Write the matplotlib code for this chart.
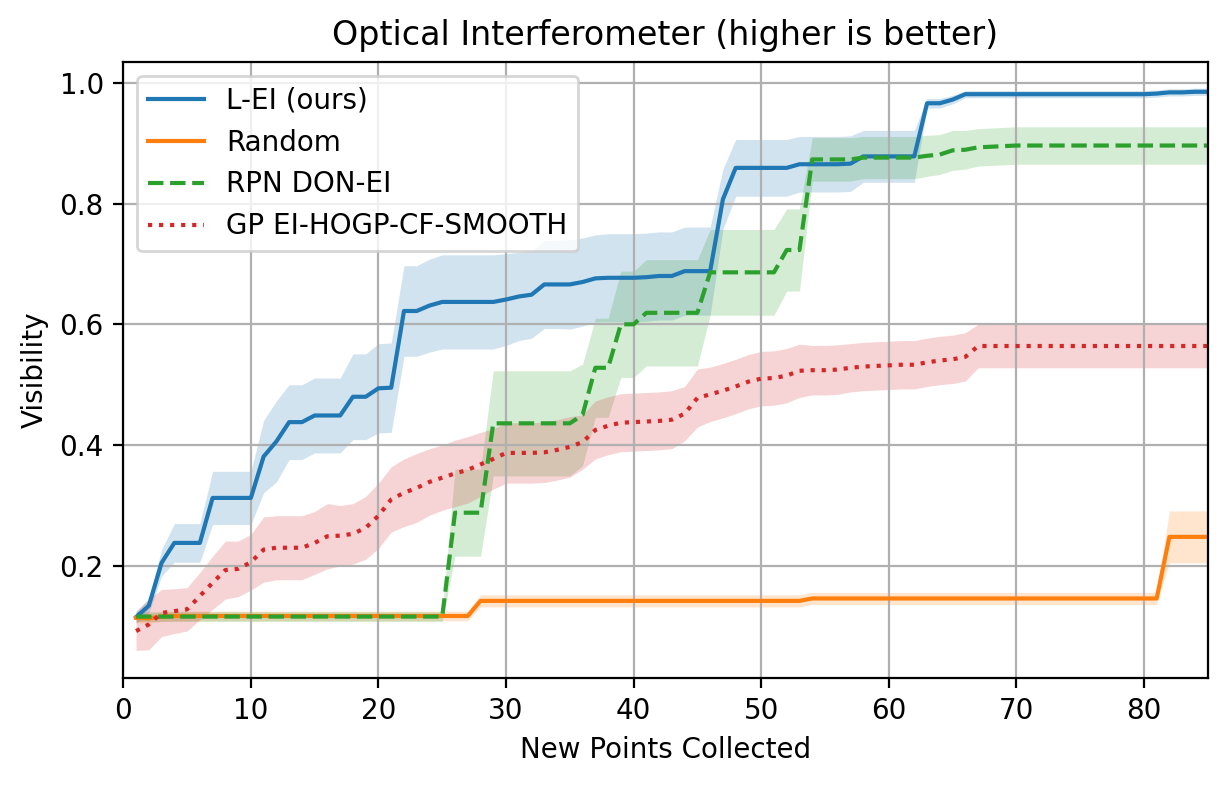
import numpy as np
import matplotlib
matplotlib.use("Agg")
import matplotlib.pyplot as plt

x = np.arange(1, 86)

lei_mean = [0.115, 0.134, 0.205, 0.238, 0.238, 0.238, 0.3125, 0.3125, 0.3125, 0.3125,
            0.381, 0.406, 0.438, 0.438, 0.449, 0.449, 0.449, 0.480, 0.480, 0.494,
            0.495, 0.622, 0.622, 0.631, 0.637, 0.637, 0.637, 0.637, 0.637, 0.641,
            0.646, 0.649, 0.666, 0.666, 0.666, 0.670, 0.676, 0.677, 0.677, 0.677,
            0.678, 0.680, 0.680, 0.688, 0.688, 0.688, 0.807, 0.859, 0.859, 0.859,
            0.859, 0.859, 0.865, 0.865, 0.865, 0.865, 0.866, 0.878, 0.878, 0.878,
            0.878, 0.878, 0.966, 0.966, 0.972, 0.981, 0.981, 0.981, 0.981, 0.981,
            0.981, 0.981, 0.981, 0.981, 0.981, 0.981, 0.981, 0.981, 0.981, 0.981,
            0.982, 0.984, 0.984, 0.985, 0.985]
lei_err = [0.010, 0.012, 0.022, 0.032, 0.032, 0.032, 0.044, 0.044, 0.044, 0.044,
           0.060, 0.067, 0.062, 0.062, 0.062, 0.062, 0.062, 0.071, 0.071, 0.074,
           0.074, 0.075, 0.075, 0.077, 0.078, 0.078, 0.078, 0.078, 0.078, 0.076,
           0.073, 0.072, 0.073, 0.073, 0.074, 0.073, 0.072, 0.073, 0.073, 0.073,
           0.073, 0.073, 0.073, 0.073, 0.073, 0.073, 0.050, 0.047, 0.047, 0.047,
           0.047, 0.047, 0.046, 0.046, 0.046, 0.046, 0.046, 0.043, 0.043, 0.043,
           0.043, 0.043, 0.008, 0.008, 0.007, 0.006, 0.006, 0.006, 0.006, 0.006,
           0.006, 0.006, 0.006, 0.006, 0.006, 0.006, 0.006, 0.006, 0.006, 0.006,
           0.006, 0.006, 0.006, 0.006, 0.006]

rand_mean = [0.114, 0.113, 0.116] + [0.117] * 24 + [0.142] * 26 + [0.146] * 28 + [0.248] * 4
rand_err = [0.008] * 27 + [0.010] * 54 + [0.043] * 4

rpn_mean = ([0.116] * 25 + [0.288] * 3 + [0.436] * 7 + [0.450, 0.528, 0.528, 0.600, 0.600]
            + [0.619] * 5 + [0.686] * 6 + [0.723] * 2 + [0.873] * 4 + [0.876] * 5
            + [0.879, 0.881, 0.888, 0.889, 0.893, 0.894, 0.895] + [0.896] * 16)
rpn_err = ([0.008] * 25 + [0.072] * 3 + [0.087] * 7 + [0.084, 0.082, 0.082, 0.088, 0.088]
           + [0.088] * 5 + [0.071] * 6 + [0.068] * 2 + [0.036] * 4 + [0.035] * 5
           + [0.034, 0.033, 0.033, 0.032, 0.031, 0.031, 0.031] + [0.031] * 16)

gp_mean = [0.092, 0.103, 0.122, 0.125, 0.128, 0.150, 0.172, 0.193, 0.195, 0.206,
           0.227, 0.230, 0.230, 0.230, 0.238, 0.249, 0.250, 0.253, 0.263, 0.283,
           0.310, 0.321, 0.329, 0.339, 0.346, 0.353, 0.359, 0.368, 0.377, 0.387,
           0.387, 0.387, 0.388, 0.392, 0.397, 0.405, 0.425, 0.432, 0.437, 0.438,
           0.439, 0.440, 0.442, 0.452, 0.478, 0.484, 0.490, 0.497, 0.505, 0.510,
           0.511, 0.515, 0.523, 0.524, 0.524, 0.525, 0.528, 0.530, 0.531, 0.532,
           0.533, 0.533, 0.537, 0.540, 0.542, 0.546, 0.564, 0.564, 0.564, 0.564,
           0.564, 0.564, 0.564, 0.564, 0.564, 0.564, 0.564, 0.564, 0.564, 0.564,
           0.564, 0.564, 0.564, 0.564, 0.564]
gp_err = [0.032, 0.042, 0.039, 0.037, 0.036, 0.039, 0.044, 0.048, 0.046, 0.046,
          0.054, 0.053, 0.053, 0.053, 0.052, 0.054, 0.050, 0.050, 0.052, 0.054,
          0.054, 0.056, 0.057, 0.055, 0.054, 0.055, 0.055, 0.053, 0.050, 0.050,
          0.050, 0.050, 0.050, 0.050, 0.050, 0.045, 0.048, 0.048, 0.048, 0.048,
          0.048, 0.048, 0.048, 0.045, 0.048, 0.045, 0.045, 0.045, 0.045, 0.045,
          0.045, 0.045, 0.044, 0.041, 0.041, 0.041, 0.040, 0.040, 0.040, 0.040,
          0.040, 0.040, 0.040, 0.040, 0.040, 0.040, 0.036, 0.036, 0.036, 0.036,
          0.036, 0.036, 0.036, 0.036, 0.036, 0.036, 0.036, 0.036, 0.036, 0.036,
          0.036, 0.036, 0.036, 0.036, 0.036]

series = [
    ("L-EI (ours)", lei_mean, lei_err, "#1f77b4", "-"),
    ("Random", rand_mean, rand_err, "#ff7f0e", "-"),
    ("RPN DON-EI", rpn_mean, rpn_err, "#2ca02c", "--"),
    ("GP EI-HOGP-CF-SMOOTH", gp_mean, gp_err, "#d62728", ":"),
]

fig = plt.figure(figsize=(6.135, 3.925), dpi=200)
ax = fig.add_axes([123.3 / 1227, 1 - 677.7 / 785, (1207.7 - 123.3) / 1227, (677.7 - 61.7) / 785])

for label, m, e, c, ls in series:
    m = np.array(m)
    e = np.array(e)
    ax.plot(x, m, color=c, linestyle=ls, linewidth=1.5, label=label)
    ax.fill_between(x, m - e, m + e, color=c, alpha=0.2, linewidth=0)

ax.set_xlim(0, 85)
ax.set_ylim(0.0148, 1.0348)
ax.set_xticks([0, 10, 20, 30, 40, 50, 60, 70, 80])
ax.set_yticks([0.2, 0.4, 0.6, 0.8, 1.0])
ax.grid(True)
ax.set_xlabel("New Points Collected")
ax.set_ylabel("Visibility")
ax.set_title("Optical Interferometer (higher is better)")
ax.legend(loc="upper left")

fig.savefig("out.png", dpi=200)
